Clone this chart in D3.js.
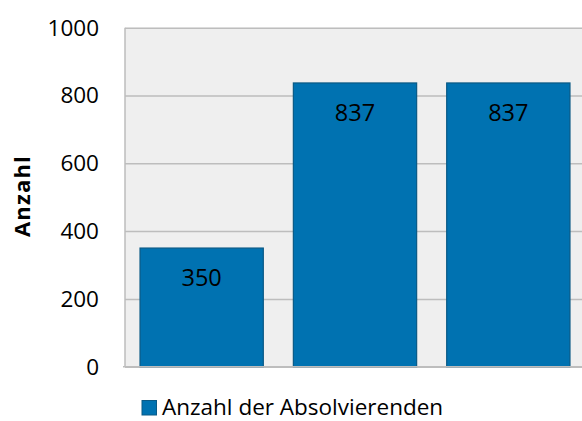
<!DOCTYPE html>
<html>
<head>
<meta charset="utf-8">
<script src="https://cdn.jsdelivr.net/npm/d3@7.9.0/dist/d3.min.js"></script>
<style>
  html, body { margin: 0; background: #fff; overflow: hidden; }
  svg { display: block; font-family: 'Open Sans', sans-serif; }
</style>
</head>
<body>
<div id="chart"></div>
<script>
// -------- data --------
const categories = ['A', 'B', 'C'];
const values = [350, 837, 837];
const yTicks = [0, 200, 400, 600, 800, 1000];
const seriesName = 'Anzahl der Absolvierenden';
const yTitle = 'Anzahl';

// -------- chart --------
const width = 582;
const height = 421;
const area = { left: 125, right: 585, top: 27.7, bottom: 366.7 };

const svg = d3.select('#chart')
  .append('svg')
  .attr('width', width)
  .attr('height', height);

const x = d3.scaleBand()
  .domain(categories)
  .range([area.left, area.right])
  .paddingInner(0.196)
  .paddingOuter(0.098);

const y = d3.scaleLinear().domain([0, 1000]).range([area.bottom, area.top]);

// plot background
svg.append('rect')
  .attr('x', area.left)
  .attr('y', area.top)
  .attr('width', area.right - area.left)
  .attr('height', area.bottom - area.top)
  .attr('fill', '#efefef');

// gridlines
svg.append('g')
  .attr('transform', `translate(${area.left},0)`)
  .call(d3.axisLeft(y).tickValues(yTicks).tickFormat('').tickSize(-(area.right - area.left)))
  .call(g => g.select('.domain').remove())
  .call(g => g.selectAll('line').attr('stroke', '#bdbdbd').attr('stroke-width', 1.5));

// y axis line
svg.append('line')
  .attr('x1', area.left).attr('x2', area.left)
  .attr('y1', area.top).attr('y2', area.bottom)
  .attr('stroke', '#bdbdbd').attr('stroke-width', 1.5);

// y tick labels
svg.append('g')
  .selectAll('text')
  .data(yTicks)
  .join('text')
  .attr('x', 99)
  .attr('y', d => y(d))
  .attr('dy', '0.35em')
  .attr('text-anchor', 'end')
  .attr('font-size', 22.5)
  .attr('fill', '#000')
  .text(d => d);

// y title
svg.append('text')
  .attr('transform', `translate(30,196) rotate(-90)`)
  .attr('text-anchor', 'middle')
  .attr('font-size', 22)
  .attr('font-weight', 'bold')
  .attr('letter-spacing', 1.2)
  .text(yTitle);

// bars
svg.append('g')
  .selectAll('rect')
  .data(values)
  .join('rect')
  .attr('x', (d, i) => x(categories[i]))
  .attr('y', d => y(d))
  .attr('width', x.bandwidth())
  .attr('height', d => y(0) - y(d))
  .attr('fill', '#0072b1')
  .attr('stroke', '#0a5a86')
  .attr('stroke-width', 1.2);

// x axis line (bottom)
svg.append('line')
  .attr('x1', area.left - 2).attr('x2', area.right)
  .attr('y1', area.bottom).attr('y2', area.bottom)
  .attr('stroke', '#bdbdbd').attr('stroke-width', 1.5);

// value labels
svg.append('g')
  .selectAll('text')
  .data(values)
  .join('text')
  .attr('x', (d, i) => x(categories[i]) + x.bandwidth() / 2)
  .attr('y', d => y(d) + 38)
  .attr('text-anchor', 'middle')
  .attr('font-size', 23.5)
  .attr('fill', '#000')
  .text(d => d);

// legend
const legend = svg.append('g');
legend.append('rect')
  .attr('x', 142)
  .attr('y', 400.5)
  .attr('width', 14.5)
  .attr('height', 14.5)
  .attr('fill', '#0072b1')
  .attr('stroke', '#0a5a86')
  .attr('stroke-width', 1);
legend.append('text')
  .attr('x', 162)
  .attr('y', 415)
  .attr('font-size', 22.5)
  .text(seriesName);
</script>
</body>
</html>
